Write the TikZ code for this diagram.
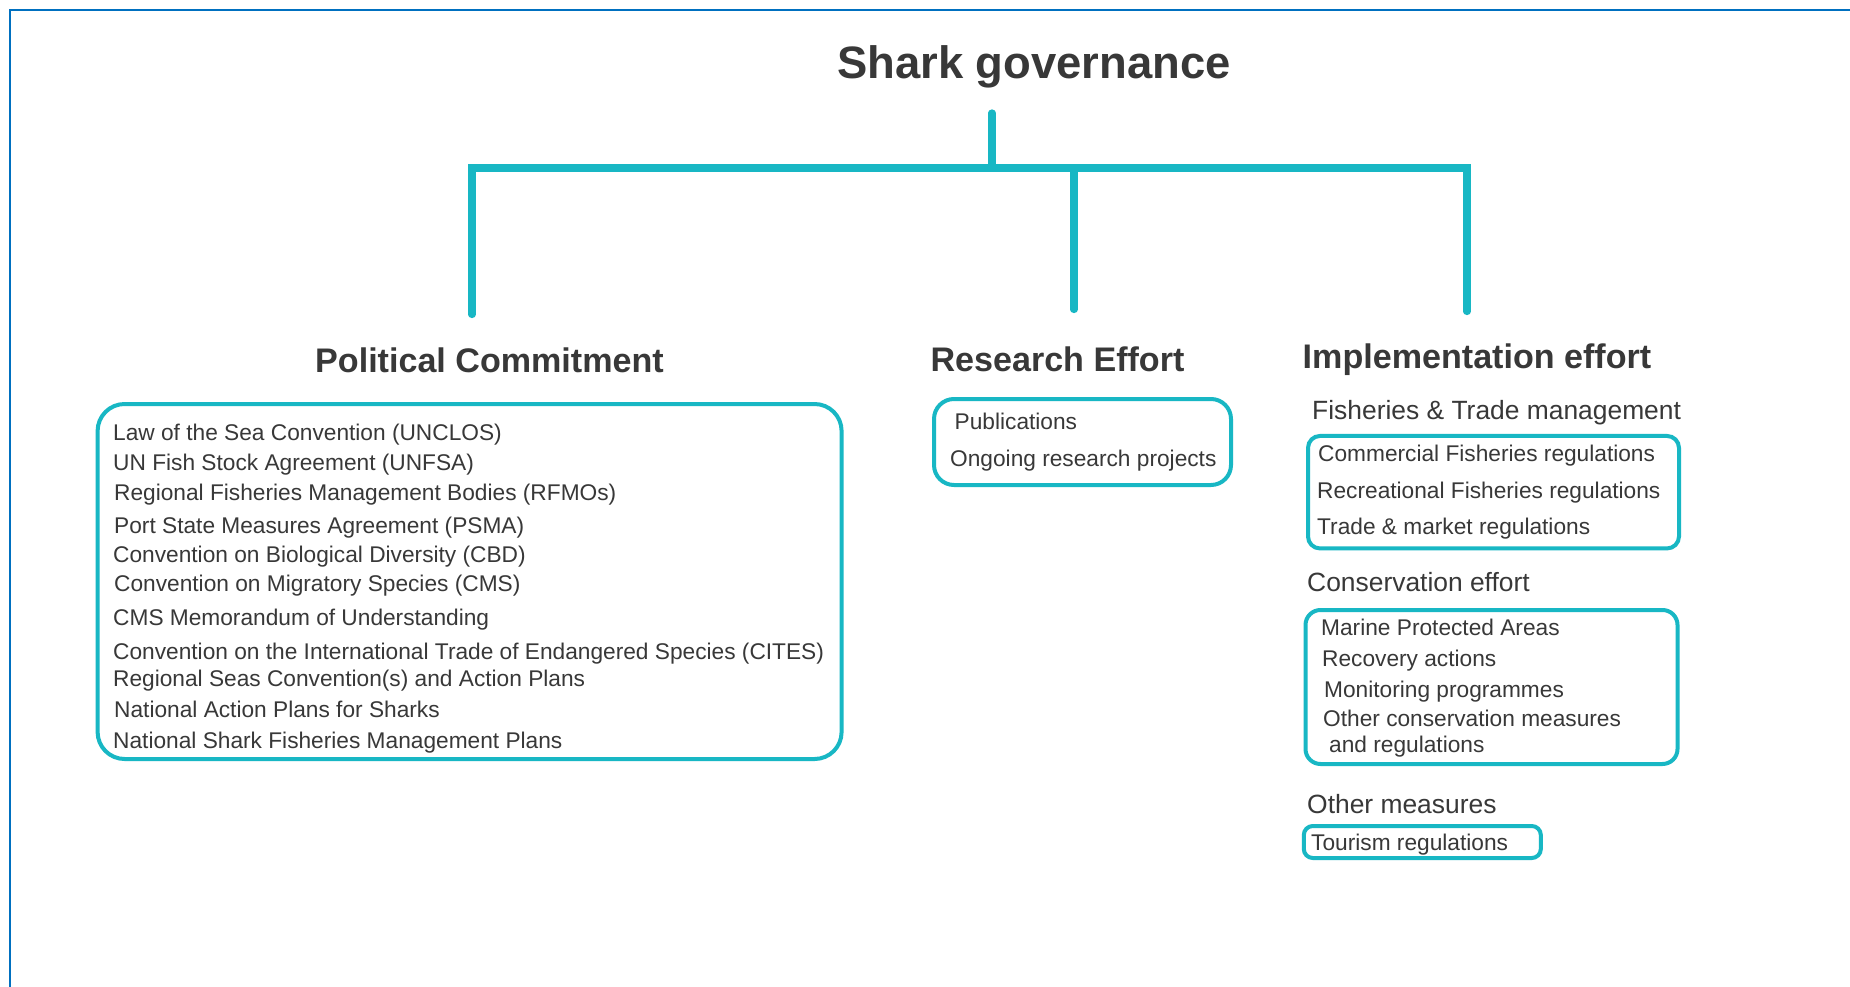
\documentclass[tikz,border=0pt]{standalone}
\usepackage{fontspec}
\setmainfont{Liberation Sans}
\definecolor{tealc}{RGB}{24,183,196}
\definecolor{frameblue}{RGB}{0,112,192}
\definecolor{txtc}{RGB}{56,56,56}
\tikzset{
  conn/.style={draw=tealc, line width=7.2pt, line cap=round, line join=miter},
  boxc/.style={draw=tealc, line width=4pt, inner sep=0pt},
  bodytxt/.style={anchor=west, inner sep=0pt, text=txtc, font=\fontsize{22.7pt}{27pt}\selectfont, text height=16.2pt, text depth=0pt},
  subtxt/.style={anchor=west, inner sep=0pt, text=txtc, font=\fontsize{26.4pt}{31pt}\selectfont, text height=18.9pt, text depth=0pt},
  headtxt/.style={inner sep=0pt, text=txtc, font=\fontsize{34.1pt}{40pt}\selectfont\bfseries, text height=24.4pt, text depth=0pt},
  titletxt/.style={inner sep=0pt, text=txtc, font=\fontsize{45.4pt}{54pt}\selectfont\bfseries, text height=32.5pt, text depth=0pt},
  framec/.style={draw=frameblue, line width=2.4pt}
}
\begin{document}
\begin{tikzpicture}[x=1pt,y=-1pt]
\useasboundingbox (0,0) rectangle (1850,987);
\fill[white] (0,0) rectangle (1850,987);
% frame
\coordinate (fbl) at (10,987);
\coordinate (ftl) at (10,10);
\coordinate (ftr) at (1850,10);
\draw[framec] (fbl) -- (ftl) -- (ftr);

% title and headings
\node[titletxt] (title) at (1034,62.5) {Shark governance};
\node[headtxt] (pc) at (489.5,360) {Political Commitment};
\node[headtxt] (re) at (1057.5,359) {Research Effort};
\node[headtxt] (ie) at (1477,356) {Implementation effort};

% tree connectors
\coordinate (stemtop) at (992,113);
\coordinate (hub) at (992,168);
\coordinate (pcL) at (472,168);
\coordinate (pcEnd) at (472,314.5);
\coordinate (ieR) at (1467,168);
\coordinate (ieEnd) at (1467,311.5);
\coordinate (reTop) at (1074,168);
\coordinate (reEnd) at (1074,309.5);
\draw[conn] (pcEnd) -- (pcL) -- (ieR) -- (ieEnd);
\draw[conn] (stemtop) -- (hub);
\draw[conn] (reTop) -- (reEnd);

% Political commitment box
\node[boxc, minimum width=744pt, minimum height=355pt, rounded corners=27pt] (pcbox) at (469.6,581.5) {};
\node[bodytxt] (p1) at (113,432) {Law of the Sea Convention (UNCLOS)};
\node[bodytxt] (p2) at (113,462) {UN Fish Stock Agreement (UNFSA)};
\node[bodytxt] (p3) at (114,492) {Regional Fisheries Management Bodies (RFMOs)};
\node[bodytxt] (p4) at (114,525) {Port State Measures Agreement (PSMA)};
\node[bodytxt] (p5) at (113,554) {Convention on Biological Diversity (CBD)};
\node[bodytxt] (p6) at (114,583) {Convention on Migratory Species (CMS)};
\node[bodytxt] (p7) at (113,617) {CMS Memorandum of Understanding};
\node[bodytxt] (p8) at (113,651) {Convention on the International Trade of Endangered Species (CITES)};
\node[bodytxt] (p9) at (113,678) {Regional Seas Convention(s) and Action Plans};
\node[bodytxt] (p10) at (114,709) {National Action Plans for Sharks};
\node[bodytxt] (p11) at (113,740) {National Shark Fisheries Management Plans};

% Research box
\node[boxc, minimum width=297pt, minimum height=86pt, rounded corners=20pt] (rebox) at (1082.5,442) {};
\node[bodytxt] (r1) at (954.5,421) {Publications};
\node[bodytxt] (r2) at (950,458) {Ongoing research projects};

% Implementation: fisheries & trade
\node[subtxt] (fth) at (1312,410) {Fisheries \& Trade management};
\node[boxc, minimum width=371pt, minimum height=112.5pt, rounded corners=12pt] (ftbox) at (1493.5,492.2) {};
\node[bodytxt] (f1) at (1318,453) {Commercial Fisheries regulations};
\node[bodytxt] (f2) at (1317,490) {Recreational Fisheries regulations};
\node[bodytxt] (f3) at (1317,526.5) {Trade \& market regulations};

% conservation
\node[subtxt] (ceh) at (1307,582) {Conservation effort};
\node[boxc, minimum width=372pt, minimum height=154pt, rounded corners=15pt] (cebox) at (1491.5,687) {};
\node[bodytxt] (c1) at (1321,627) {Marine Protected Areas};
\node[bodytxt] (c2) at (1322,658.5) {Recovery actions};
\node[bodytxt] (c3) at (1324,689.5) {Monitoring programmes};
\node[bodytxt] (c4) at (1323,718.5) {Other conservation measures};
\node[bodytxt] (c5) at (1329,744) {and regulations};

% other measures
\node[subtxt] (omh) at (1307,804) {Other measures};
\node[boxc, minimum width=237pt, minimum height=32pt, rounded corners=9pt] (ombox) at (1422.3,842) {};
\node[bodytxt] (o1) at (1311,842.5) {Tourism regulations};
\end{tikzpicture}
\end{document}
